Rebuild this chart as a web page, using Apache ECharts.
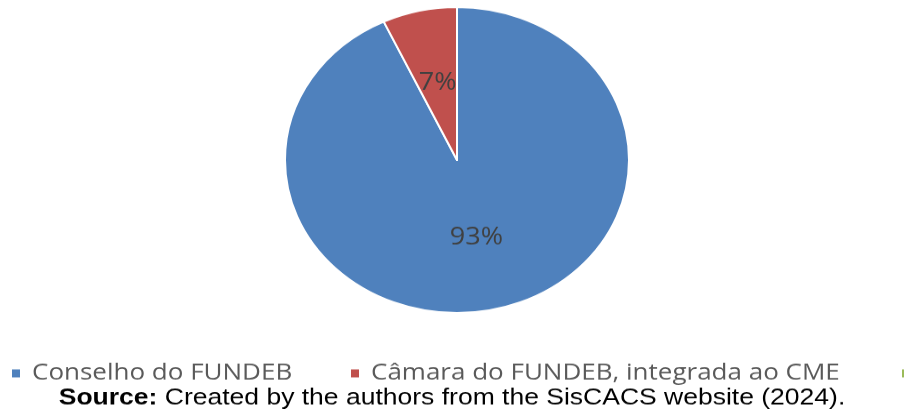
<!DOCTYPE html>
<html><head><meta charset="utf-8">
<script src="https://cdn.jsdelivr.net/npm/echarts@6/dist/echarts.min.js"></script>
<style>
html,body{margin:0;padding:0;overflow:hidden;background:#fff;width:904px;height:416px}
#wrap{width:904px;height:416px;overflow:hidden;position:relative}
#chart{width:904px;height:468px;transform:scaleY(0.888889);transform-origin:0 0}
</style></head><body><div id="wrap"><div id="chart"></div></div>
<script>
const categories = ['Conselho do FUNDEB', 'Câmara do FUNDEB, integrada ao CME', 'Outros'];
const values = [93, 7, 0];
const colors = ['#4F81BD', '#C0504D', '#9BBB59'];
const sourceLabel = 'Source:';
const sourceText = ' Created by the authors from the SisCACS website (2024).';

const legendWidths = [262, 474, 200];
const chart = echarts.init(document.getElementById('chart'), null, {renderer: 'canvas'});
chart.setOption({
  animation: false,
  color: colors,
  title: {
    text: '{b|' + sourceLabel + '}{n|' + sourceText + '}',
    left: 'center',
    top: 433,
    padding: 0,
    textStyle: {
      rich: {
        b: {fontFamily: 'Liberation Sans, Arial, sans-serif', fontWeight: 'bold', fontSize: 26.5, color: '#000', lineHeight: 30},
        n: {fontFamily: 'Liberation Sans, Arial, sans-serif', fontWeight: 'normal', fontSize: 26.5, color: '#000', lineHeight: 30}
      }
    }
  },
  legend: {
    left: 10,
    top: 405,
    width: 3000,
    orient: 'horizontal',
    icon: 'rect',
    itemWidth: 10,
    itemHeight: 11,
    itemGap: 55,
    padding: 0,
    selectedMode: false,
    textStyle: {fontFamily: 'Open Sans, sans-serif', fontSize: 26, color: '#595959', padding: [0, 0, 0, 6], lineHeight: 30},
    data: categories.map((n, i) => ({name: n, textStyle: {width: legendWidths[i]}}))
  },
  series: [{
    type: 'pie',
    center: [457, 180],
    radius: 172,
    startAngle: 90,
    clockwise: true,
    silent: true,
    label: {
      show: true,
      position: 'inside',
      formatter: p => (p.value ? p.value + '%' : ''),
      fontFamily: 'Open Sans, sans-serif',
      fontSize: 27,
      color: '#404040'
    },
    labelLine: {show: false},
    itemStyle: {borderColor: '#fff', borderWidth: 2},
    emphasis: {disabled: true},
    data: categories.map((n, i) => ({name: n, value: values[i]}))
  }]
});
</script></body></html>
